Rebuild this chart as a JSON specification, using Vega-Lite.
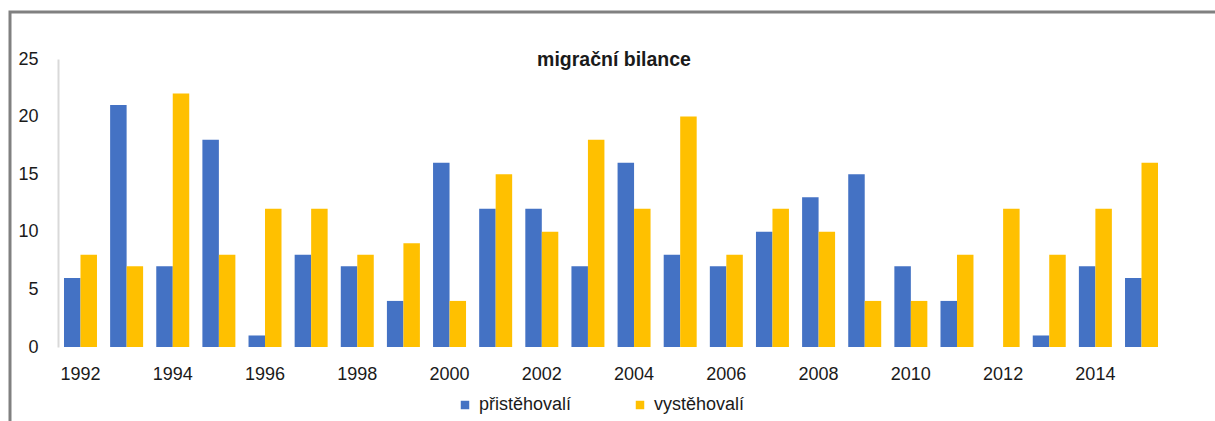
{
  "$schema": "https://vega.github.io/schema/vega-lite/v6.json",
  "width": 1208,
  "height": 412,
  "autosize": {"type": "none"},
  "padding": {"left": 10, "top": 12, "right": -3, "bottom": -3},
  "background": "white",
  "title": {
    "text": "migrační bilance",
    "frame": "group",
    "anchor": "middle",
    "orient": "top",
    "baseline": "middle",
    "offset": -67,
    "font": "Liberation Sans",
    "fontSize": 19.5,
    "fontWeight": "bold",
    "color": "#1a1a1a"
  },
  "data": {
    "values": [
      {"year": 1992, "series": "přistěhovalí", "value": 6},
      {"year": 1992, "series": "vystěhovalí", "value": 8},
      {"year": 1993, "series": "přistěhovalí", "value": 21},
      {"year": 1993, "series": "vystěhovalí", "value": 7},
      {"year": 1994, "series": "přistěhovalí", "value": 7},
      {"year": 1994, "series": "vystěhovalí", "value": 22},
      {"year": 1995, "series": "přistěhovalí", "value": 18},
      {"year": 1995, "series": "vystěhovalí", "value": 8},
      {"year": 1996, "series": "přistěhovalí", "value": 1},
      {"year": 1996, "series": "vystěhovalí", "value": 12},
      {"year": 1997, "series": "přistěhovalí", "value": 8},
      {"year": 1997, "series": "vystěhovalí", "value": 12},
      {"year": 1998, "series": "přistěhovalí", "value": 7},
      {"year": 1998, "series": "vystěhovalí", "value": 8},
      {"year": 1999, "series": "přistěhovalí", "value": 4},
      {"year": 1999, "series": "vystěhovalí", "value": 9},
      {"year": 2000, "series": "přistěhovalí", "value": 16},
      {"year": 2000, "series": "vystěhovalí", "value": 4},
      {"year": 2001, "series": "přistěhovalí", "value": 12},
      {"year": 2001, "series": "vystěhovalí", "value": 15},
      {"year": 2002, "series": "přistěhovalí", "value": 12},
      {"year": 2002, "series": "vystěhovalí", "value": 10},
      {"year": 2003, "series": "přistěhovalí", "value": 7},
      {"year": 2003, "series": "vystěhovalí", "value": 18},
      {"year": 2004, "series": "přistěhovalí", "value": 16},
      {"year": 2004, "series": "vystěhovalí", "value": 12},
      {"year": 2005, "series": "přistěhovalí", "value": 8},
      {"year": 2005, "series": "vystěhovalí", "value": 20},
      {"year": 2006, "series": "přistěhovalí", "value": 7},
      {"year": 2006, "series": "vystěhovalí", "value": 8},
      {"year": 2007, "series": "přistěhovalí", "value": 10},
      {"year": 2007, "series": "vystěhovalí", "value": 12},
      {"year": 2008, "series": "přistěhovalí", "value": 13},
      {"year": 2008, "series": "vystěhovalí", "value": 10},
      {"year": 2009, "series": "přistěhovalí", "value": 15},
      {"year": 2009, "series": "vystěhovalí", "value": 4},
      {"year": 2010, "series": "přistěhovalí", "value": 7},
      {"year": 2010, "series": "vystěhovalí", "value": 4},
      {"year": 2011, "series": "přistěhovalí", "value": 4},
      {"year": 2011, "series": "vystěhovalí", "value": 8},
      {"year": 2012, "series": "přistěhovalí", "value": 0},
      {"year": 2012, "series": "vystěhovalí", "value": 12},
      {"year": 2013, "series": "přistěhovalí", "value": 1},
      {"year": 2013, "series": "vystěhovalí", "value": 8},
      {"year": 2014, "series": "přistěhovalí", "value": 7},
      {"year": 2014, "series": "vystěhovalí", "value": 12},
      {"year": 2015, "series": "přistěhovalí", "value": 6},
      {"year": 2015, "series": "vystěhovalí", "value": 16}
    ]
  },
  "mark": {"type": "bar"},
  "encoding": {
    "x": {
      "field": "year",
      "type": "ordinal",
      "title": null,
      "scale": {"range": [48, 1154], "paddingInner": 0.285, "paddingOuter": 0.13},
      "axis": {
        "orient": "bottom",
        "offset": -77,
        "values": [1992, 1994, 1996, 1998, 2000, 2002, 2004, 2006, 2008, 2010, 2012, 2014],
        "domain": false,
        "ticks": false,
        "labelAngle": 0,
        "labelPadding": 18,
        "labelFont": "Liberation Sans",
        "labelFontSize": 18,
        "labelColor": "#1a1a1a"
      }
    },
    "xOffset": {
      "field": "series",
      "type": "nominal",
      "sort": ["přistěhovalí", "vystěhovalí"],
      "scale": {"paddingInner": 0, "paddingOuter": 0}
    },
    "y": {
      "field": "value",
      "type": "quantitative",
      "title": null,
      "scale": {"domain": [0, 25], "range": [335, 47], "nice": false},
      "axis": {
        "orient": "left",
        "offset": -48,
        "values": [0, 5, 10, 15, 20, 25],
        "grid": false,
        "ticks": false,
        "domain": true,
        "domainColor": "#d9d9d9",
        "domainWidth": 2,
        "labelPadding": 20,
        "labelFont": "Liberation Sans",
        "labelFontSize": 18,
        "labelColor": "#1a1a1a"
      }
    },
    "color": {
      "field": "series",
      "type": "nominal",
      "sort": ["přistěhovalí", "vystěhovalí"],
      "scale": {"domain": ["přistěhovalí", "vystěhovalí"], "range": ["#4472C4", "#FFC000"]},
      "legend": {
        "title": null,
        "orient": "none",
        "direction": "horizontal",
        "legendX": 446,
        "legendY": 384,
        "symbolType": "square",
        "symbolSize": 72,
        "symbolStrokeWidth": 0,
        "labelOffset": 5,
        "columnPadding": 59,
        "labelFont": "Liberation Sans",
        "labelFontSize": 18,
        "labelColor": "#1a1a1a"
      }
    }
  },
  "config": {
    "view": {"stroke": "#808080", "strokeWidth": 3, "fill": "white"}
  }
}
